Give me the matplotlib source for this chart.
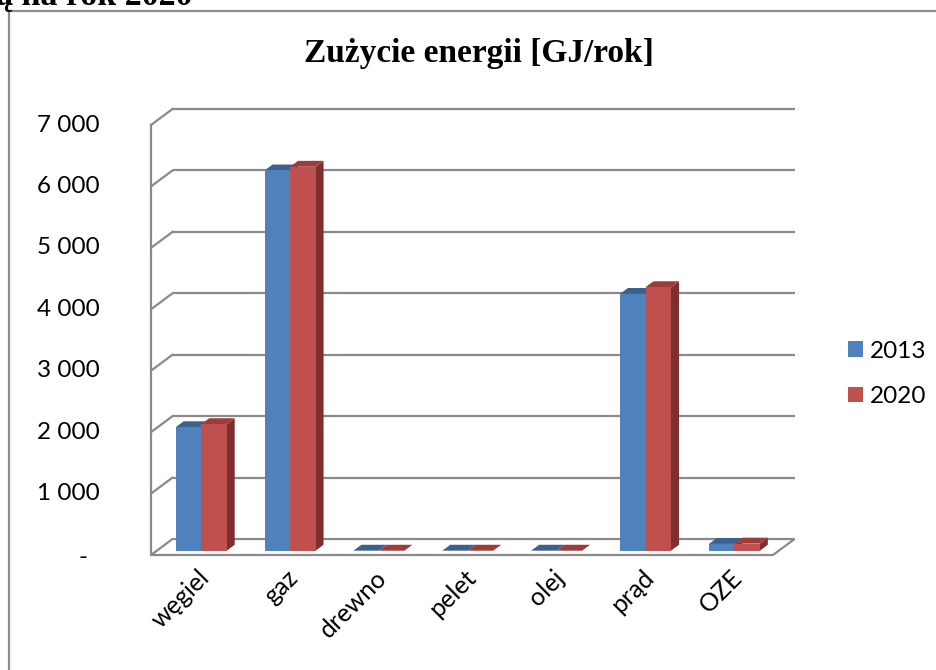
import matplotlib
matplotlib.use("Agg")
import matplotlib.pyplot as plt
from matplotlib.lines import Line2D

# Dane
kategorie = ["węgiel", "gaz", "drewno", "pelet", "olej", "prąd", "OZE"]
serie = ["2013", "2020"]
zuzycie_2013 = [2010, 6190, 0, 0, 0, 4180, 110]
zuzycie_2020 = [2060, 6250, 0, 0, 0, 4290, 115]
y_ticks = [0, 1000, 2000, 3000, 4000, 5000, 6000, 7000]
y_labels = ["-", "1 000", "2 000", "3 000", "4 000", "5 000", "6 000", "7 000"]

# Styl
W, H = 937, 670
KOLOR_SIATKI = "#8a8a8a"
KOLORY = {
    "2013": {"front": "#4F81BD", "top": "#3A6190", "side": "#2E4D73"},
    "2020": {"front": "#C0504D", "top": "#9E3C39", "side": "#7C2F2D"},
}
DX = 0.242       # glebokosc 3D w jednostkach osi x
DY = 260         # glebokosc 3D w jednostkach osi y
F0, F1 = 0.27, 0.64   # zakres glebokosci slupkow
SZER = 0.287     # szerokosc slupka

plt.rcParams["font.family"] = ["Lato", "DejaVu Sans"]

fig = plt.figure(figsize=(W / 100, H / 100), dpi=100)
ax = fig.add_axes([151 / W, (H - 555) / H, (773 - 151) / W, (555 - 125) / H])
ax.set_xlim(-0.5, 6.5)
ax.set_ylim(0, 7000)
ax.axis("off")

x0, x1 = -0.5, len(kategorie) - 0.5
lw = 1.6

# Sciana tylna (linie siatki) i sciana boczna
for v in y_ticks[1:]:
    ax.plot([x0 + DX, x1 + DX], [v + DY, v + DY], color=KOLOR_SIATKI, lw=lw,
            clip_on=False, solid_capstyle="butt", zorder=1)
    ax.plot([x0, x0 + DX], [v, v + DY], color=KOLOR_SIATKI, lw=lw,
            clip_on=False, zorder=1)
ax.plot([x0, x0], [0, y_ticks[-1]], color=KOLOR_SIATKI, lw=lw, clip_on=False, zorder=1)

# Podloga
podloga_x = [x0, x1, x1 + DX, x0 + DX, x0]
podloga_y = [0, 0, DY, DY, 0]
ax.fill(podloga_x, podloga_y, facecolor="white", edgecolor=KOLOR_SIATKI, lw=lw,
        clip_on=False, zorder=2)

# Slupki 3D
pozycje = list(range(len(kategorie)))
z = 3
for i in pozycje:
    for j, (nazwa, dane) in enumerate(zip(serie, [zuzycie_2013, zuzycie_2020])):
        v = dane[i]
        kol = KOLORY[nazwa]
        xl = i + F0 * DX - SZER + j * SZER
        xr = xl + SZER
        yb = F0 * DY
        yt = v + F0 * DY
        ddx = (F1 - F0) * DX
        ddy = (F1 - F0) * DY
        # bok
        ax.fill([xr, xr + ddx, xr + ddx, xr], [yb, yb + ddy, yt + ddy, yt],
                color=kol["side"], lw=0, clip_on=False, zorder=z)
        # gora
        ax.fill([xl, xr, xr + ddx, xl + ddx], [yt, yt, yt + ddy, yt + ddy],
                color=kol["top"], lw=0, clip_on=False, zorder=z)
        # front
        ax.bar(xl, v, width=SZER, bottom=yb, align="edge", color=kol["front"],
               lw=0, clip_on=False, zorder=z + 0.5,
               label=nazwa if i == 0 else None)
        z += 1

# Etykiety osi Y
for v, lab in zip(y_ticks, y_labels):
    dx = -63 if lab == "-" else -51
    ax.annotate(lab, xy=(x0, v), xytext=(dx, -2 if lab == "-" else 0),
                textcoords="offset pixels", ha="right", va="center",
                fontsize=17.5, color="black", annotation_clip=False)

# Etykiety osi X
for i, lab in enumerate(kategorie):
    ax.annotate(lab, xy=(i, 0), xytext=(10, -19), textcoords="offset pixels",
                rotation=45, rotation_mode="anchor", ha="right", va="center",
                fontsize=18, color="black", annotation_clip=False)

# Legenda
ax.legend(loc="center left", bbox_to_anchor=(848 / W, 1 - 374 / H),
          bbox_transform=fig.transFigure, frameon=False, fontsize=17.5,
          borderpad=0, borderaxespad=0, handlelength=0.62, handleheight=0.62,
          handletextpad=0.3, labelspacing=1.0)

# Tytul
fig.text(478.5 / W, 1 - 62 / H, "Zużycie energii [GJ/rok]", ha="center",
         va="baseline", fontsize=24, fontweight="bold",
         family=["Liberation Serif", "DejaVu Serif"])

# Fragment tekstu dokumentu nad wykresem
fig.text(-4 / W, 1 - 5 / H, "ą na rok 2020", ha="left", va="baseline",
         fontsize=24.5, fontweight="bold", family=["Liberation Serif", "DejaVu Serif"])

# Ramka wykresu
fig.add_artist(Line2D([9 / W, 1], [1 - 11 / H, 1 - 11 / H], color="#8c8c8c", lw=1.6,
                      transform=fig.transFigure))
fig.add_artist(Line2D([9 / W, 9 / W], [0, 1 - 11 / H], color="#8c8c8c", lw=1.6,
                      transform=fig.transFigure))

fig.savefig("out.png", dpi=100, facecolor="white")
